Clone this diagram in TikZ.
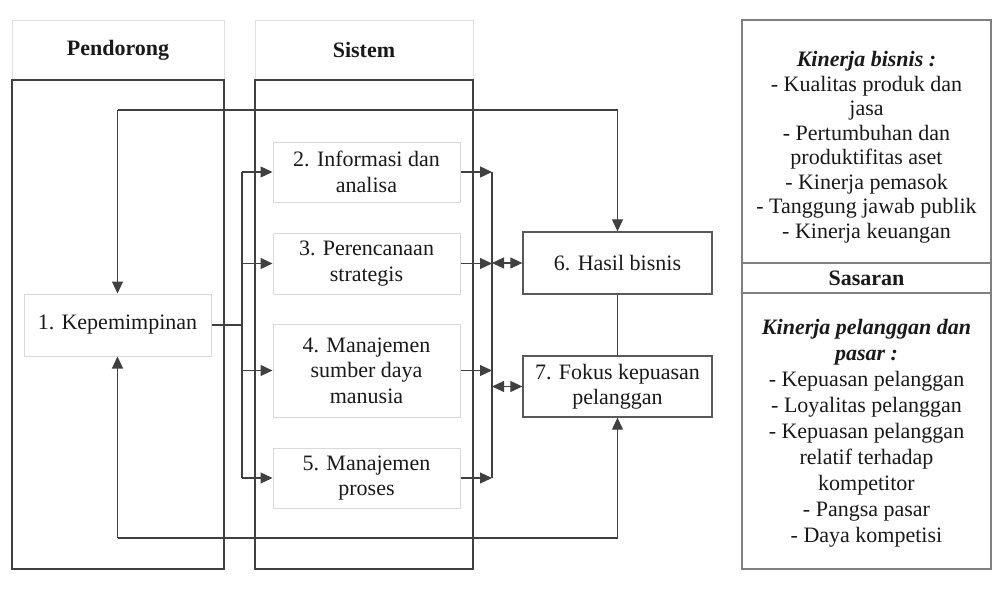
\documentclass[tikz,border=0pt]{standalone}
\usepackage{fontspec}
\setmainfont{Liberation Serif}
\usetikzlibrary{arrows.meta}
\begin{document}
\begin{tikzpicture}[x=1pt,y=-1pt,
  every node/.style={font=\fontsize{22}{25.5}\selectfont, align=center, inner sep=0pt, text=black!90},
  hdr/.style={draw=black!12, line width=1pt},
  col/.style={draw=black!75, line width=1.3pt},
  item/.style={draw=black!15, line width=1pt},
  res/.style={draw=black!65, line width=1.3pt},
  pan/.style={draw=black!50, line width=1.3pt},
  link/.style={draw=black!75, line width=1.1pt},
  tip/.style={-{Triangle[length=12pt,width=11pt]}},
  dtip/.style={{Triangle[length=12pt,width=11pt]}-{Triangle[length=12pt,width=11pt]}},
  ]
\useasboundingbox (0,0) rectangle (994,592);
% columns
\node[hdr, minimum width=212pt, minimum height=60pt] (hP) at (118,50) {\textbf{Pendorong}};
\node[col, minimum width=212pt, minimum height=489pt] (cP) at (118,324.5) {};
\node[hdr, minimum width=218pt, minimum height=60pt] (hS) at (364,50) {\textbf{Sistem}};
\node[col, minimum width=218pt, minimum height=489pt] (cS) at (364,324.5) {};
% items
\node[item, minimum width=187pt, minimum height=62pt] (n1) at (117.5,325) {1. Kepemimpinan};
\node[item, minimum width=187pt, minimum height=60pt] (n2) at (366.5,172) {2. Informasi dan\\analisa};
\node[item, minimum width=187pt, minimum height=61pt] (n3) at (366.5,263.5) {3. Perencanaan\\strategis};
\node[item, minimum width=187pt, minimum height=93pt] (n4) at (366.5,370.5) {4. Manajemen\\sumber daya\\manusia};
\node[item, minimum width=187pt, minimum height=60pt] (n5) at (366.5,478) {5. Manajemen\\proses};
\node[res, minimum width=189pt, minimum height=62pt] (n6) at (617.5,263) {6. Hasil bisnis};
\node[res, minimum width=189pt, minimum height=61pt] (n7) at (617.5,386.5) {7. Fokus kepuasan\\pelanggan};
% right panel
\node[pan, minimum width=249pt, minimum height=243pt] (pA) at (866.5,141.5) {};
\node[pan, minimum width=249pt, minimum height=30pt] (pB) at (866.5,278) {\textbf{Sasaran}};
\node[pan, minimum width=249pt, minimum height=276pt] (pC) at (866.5,431) {};
\node[font=\fontsize{22}{24.5}\selectfont] (tA) at (866.5,147) {\textbf{\textit{Kinerja bisnis :}}\\- Kualitas produk dan\\jasa\\- Pertumbuhan dan\\produktifitas aset\\- Kinerja pemasok\\- Tanggung jawab publik\\- Kinerja keuangan};
\node[font=\fontsize{22}{26}\selectfont] (tC) at (866.5,433) {\textbf{\textit{Kinerja pelanggan dan}}\\\textbf{\textit{pasar :}}\\- Kepuasan pelanggan\\- Loyalitas pelanggan\\- Kepuasan pelanggan\\relatif terhadap\\kompetitor\\- Pangsa pasar\\- Daya kompetisi};
% feedback loops
\coordinate (tl) at (117.5,110);
\coordinate (tr) at (617.5,110);
\coordinate (bl) at (117.5,538);
\coordinate (br) at (617.5,538);
\draw[link,tip] (tl) -- (n1.north);
\draw[link,tip] (tl) -- (tr) -- (n6.north);
\draw[link,tip] (bl) -- (n1.south);
\draw[link,tip] (bl) -- (br) -- (n7.south);
% left bus
\coordinate (bL) at (242,0);
\draw[link] (n1.east) -- (bL |- n1.east);
\draw[link] (bL |- n2.west) -- (bL |- n5.west);
\draw[link,tip] (bL |- n2.west) -- (n2.west);
\draw[link,tip] (bL |- n3.west) -- (n3.west);
\draw[link,tip] (bL |- n4.west) -- (n4.west);
\draw[link,tip] (bL |- n5.west) -- (n5.west);
% right bus
\coordinate (bR) at (492,0);
\draw[link] (bR |- n2.east) -- (bR |- n5.east);
\draw[link,tip] (n2.east) -- (bR |- n2.east);
\draw[link,tip] (n3.east) -- (bR |- n3.east);
\draw[link,tip] (n4.east) -- (bR |- n4.east);
\draw[link,tip] (n5.east) -- (bR |- n5.east);
\draw[link,dtip] (bR |- n6.west) -- (n6.west);
\draw[link,dtip] (bR |- n7.west) -- (n7.west);
\draw[link] (n6.south) -- (n7.north);
\end{tikzpicture}
\end{document}
